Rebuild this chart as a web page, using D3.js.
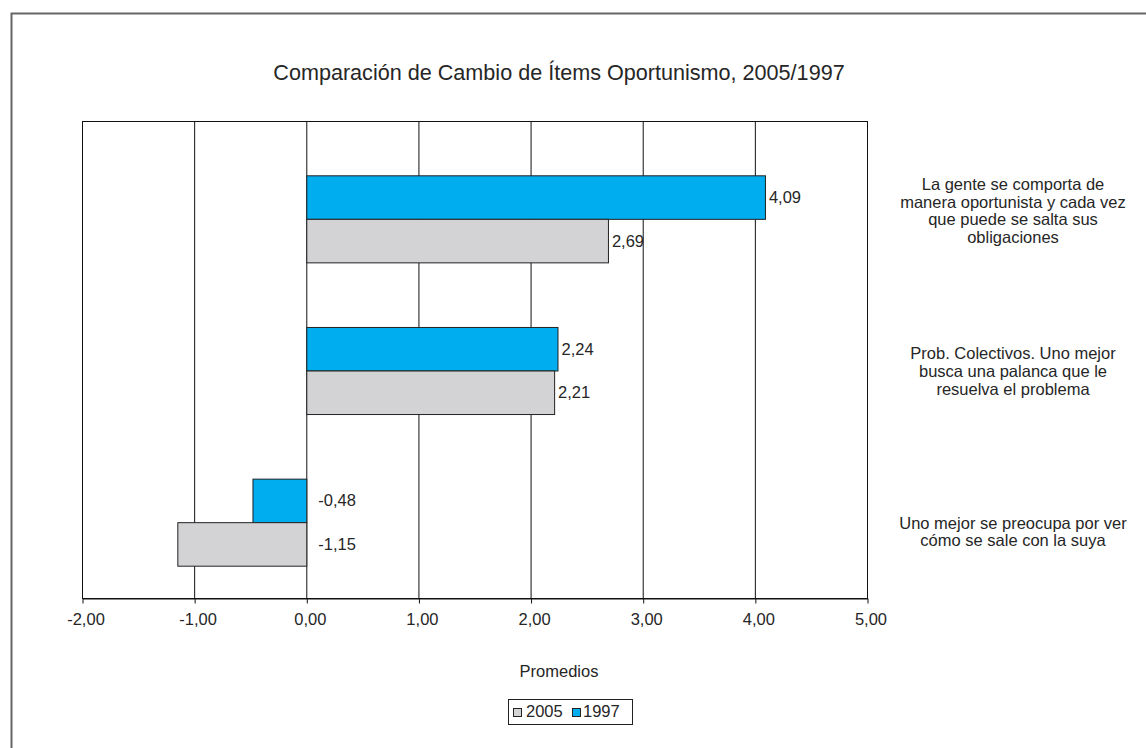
<!DOCTYPE html>
<html>
<head>
<meta charset="utf-8">
<script src="https://cdn.jsdelivr.net/npm/d3@7"></script>
<style>
  body { margin: 0; background: #fff; }
  text { font-family: "Liberation Sans", Arial, sans-serif; fill: #262626; }
</style>
</head>
<body>
<svg width="1146" height="748"></svg>
<script>
// data
var categories = [
  ["La gente se comporta de", "manera oportunista y cada vez", "que puede se salta sus", "obligaciones"],
  ["Prob. Colectivos. Uno mejor", "busca una palanca que le", "resuelva el problema"],
  ["Uno mejor se preocupa por ver", "cómo se sale con la suya"]
];
var values1997 = [4.09, 2.24, -0.48];
var values2005 = [2.69, 2.21, -1.15];
var seriesNames = ["1997", "2005"];
var legendOrder = ["2005", "1997"];
var xTicks = [-2, -1, 0, 1, 2, 3, 4, 5];

var colors = { "1997": "#00adef", "2005": "#d3d3d5" };

var svg = d3.select("svg"),
    width = +svg.attr("width"),
    height = +svg.attr("height");

// outer chart frame (only top and left edges are in the picture)
svg.append("path")
    .attr("d", "M11.5,748 V13.5 H1146")
    .attr("fill", "none")
    .attr("stroke", "#666")
    .attr("stroke-width", 2);

var plot = { left: 82, right: 867, top: 121, bottom: 598 };

var x = d3.scaleLinear().domain([-2, 5]).range([plot.left, plot.right]);

var y = d3.scaleBand()
    .domain(d3.range(categories.length))
    .range([143, plot.bottom])
    .paddingInner(0.426)
    .paddingOuter(0.213);

var ySub = d3.scaleBand().domain(seriesNames).range([0, y.bandwidth()]);

// excel style: comma decimal, plain hyphen for minus
var fmt = function(v) { return v.toFixed(2).replace(".", ","); };

// title
svg.append("text")
    .attr("x", 559).attr("y", 80)
    .attr("text-anchor", "middle")
    .style("font-size", "21.6px")
    .text("Comparación de Cambio de Ítems Oportunismo, 2005/1997");

// gridlines
svg.append("g")
    .selectAll("line")
    .data(xTicks)
    .enter().append("line")
    .attr("x1", function(d) { return x(d) + 0.5; })
    .attr("x2", function(d) { return x(d) + 0.5; })
    .attr("y1", plot.top)
    .attr("y2", plot.bottom)
    .attr("stroke", "#111")
    .attr("stroke-width", 1);

// plot border
svg.append("rect")
    .attr("x", plot.left + 0.5).attr("y", plot.top + 0.5)
    .attr("width", plot.right - plot.left).attr("height", plot.bottom - plot.top)
    .attr("fill", "none")
    .attr("stroke", "#111");

// x axis
var xAxis = svg.append("g")
    .attr("transform", "translate(0.5," + (plot.bottom + 0.5) + ")")
    .call(d3.axisBottom(x).tickValues(xTicks).tickSize(5).tickSizeOuter(0).tickPadding(10).tickFormat(fmt));
xAxis.select(".domain").attr("stroke", "#111");
xAxis.selectAll(".tick line").attr("stroke", "#111");
xAxis.selectAll("text")
    .attr("dx", 3)
    .style("font-size", "16.5px")
    .style("font-family", "'Liberation Sans', Arial, sans-serif")
    .attr("fill", "#262626");

// bars
var rows = categories.map(function(c, i) {
  return { i: i, vals: [ { s: "1997", v: values1997[i] }, { s: "2005", v: values2005[i] } ] };
});

var groups = svg.append("g")
    .selectAll("g")
    .data(rows)
    .enter().append("g")
    .attr("transform", function(d) { return "translate(0," + y(d.i) + ")"; });

groups.selectAll("rect")
    .data(function(d) { return d.vals; })
    .enter().append("rect")
    .attr("x", function(d) { return x(Math.min(0, d.v)) + 0.5; })
    .attr("y", function(d) { return ySub(d.s) + 0.5; })
    .attr("width", function(d) { return Math.abs(x(d.v) - x(0)); })
    .attr("height", ySub.bandwidth())
    .attr("fill", function(d) { return colors[d.s]; })
    .attr("stroke", "#222")
    .attr("stroke-width", 1);

// data labels
groups.selectAll("text")
    .data(function(d) { return d.vals; })
    .enter().append("text")
    .attr("x", function(d) { return d.v >= 0 ? x(d.v) + 4 : x(0) + 12; })
    .attr("y", function(d) { return ySub(d.s) + ySub.bandwidth() / 2 + 6; })
    .style("font-size", "16.5px")
    .text(function(d) { return fmt(d.v); });

// category labels at right, last line sits a bit below the group centre
var lineH = 17.6;
var catLabels = svg.append("g")
    .selectAll("text")
    .data(categories)
    .enter().append("text")
    .attr("text-anchor", "middle")
    .style("font-size", "16.5px")
    .attr("y", function(d, i) {
      var c = y(i) + y.bandwidth() / 2;
      return c + 24 - (d.length - 1) * lineH;
    });
catLabels.selectAll("tspan")
    .data(function(d) { return d; })
    .enter().append("tspan")
    .attr("x", 1013)
    .attr("dy", function(d, j) { return j === 0 ? 0 : lineH; })
    .text(function(d) { return d; });

// axis title
svg.append("text")
    .attr("x", 559).attr("y", 677)
    .attr("text-anchor", "middle")
    .style("font-size", "16.5px")
    .text("Promedios");

// legend
var legend = svg.append("g");
legend.append("rect")
    .attr("x", 508.5).attr("y", 699.5)
    .attr("width", 124).attr("height", 25)
    .attr("fill", "#fff")
    .attr("stroke", "#222");

var legX = d3.scaleOrdinal().domain(legendOrder).range([513, 572]);

var items = legend.selectAll("g.item")
    .data(legendOrder)
    .enter().append("g")
    .attr("class", "item")
    .attr("transform", function(d) { return "translate(" + legX(d) + ",0)"; });
items.append("rect")
    .attr("x", 0.5).attr("y", 708.5)
    .attr("width", 8).attr("height", 8)
    .attr("fill", function(d) { return colors[d]; })
    .attr("stroke", "#222");
items.append("text")
    .attr("x", function(d) { return d === "2005" ? 13 : 11; })
    .attr("y", 717)
    .style("font-size", "16.5px")
    .text(function(d) { return d; });
</script>
</body>
</html>
